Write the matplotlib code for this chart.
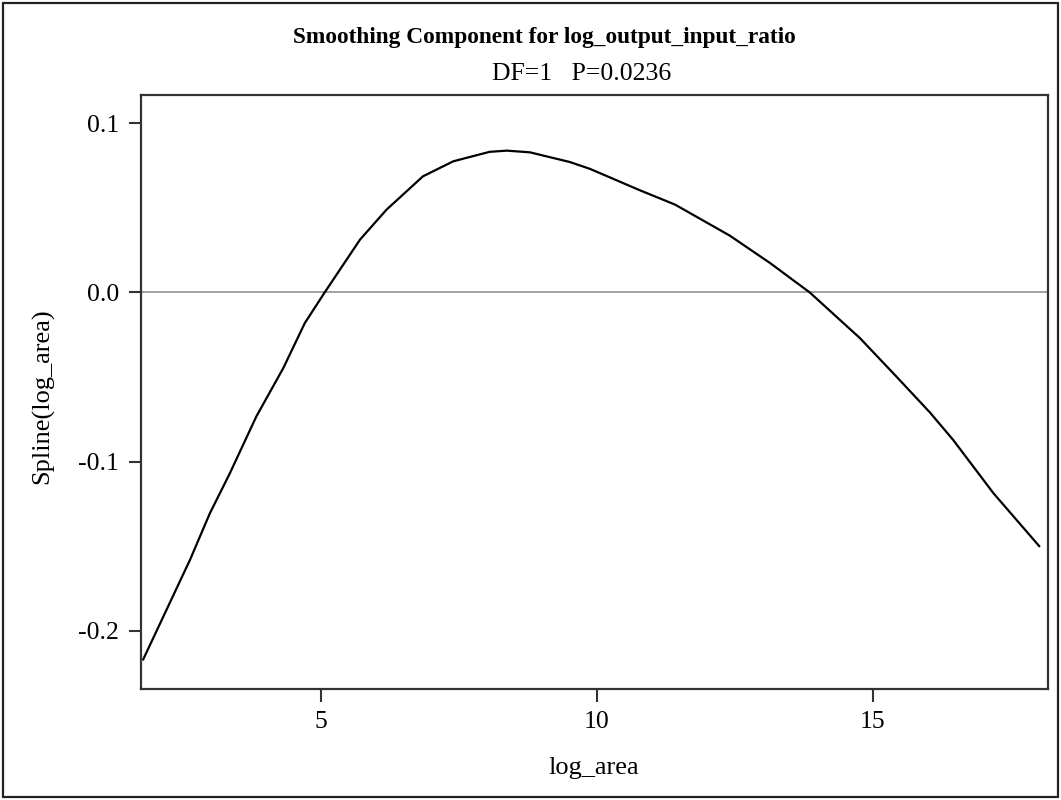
import matplotlib
matplotlib.use("Agg")
import matplotlib.pyplot as plt
from matplotlib.patches import Rectangle

# Data
log_area = [1.78, 2.63, 2.99, 3.35, 3.83, 4.32, 4.71, 5.07, 5.71, 6.19, 6.85, 7.40,
            8.06, 8.37, 8.79, 9.51, 9.88, 10.78, 11.42, 12.41, 13.14, 13.86,
            14.77, 15.43, 16.04, 16.46, 17.19, 18.02]
spline = [-0.217, -0.158, -0.1305, -0.107, -0.0734, -0.0447, -0.0181, 0.0,
          0.0312, 0.0489, 0.0686, 0.0775, 0.0831, 0.0838, 0.0828, 0.0771, 0.073,
          0.0604, 0.0519, 0.0336, 0.0174, 0.0, -0.027, -0.0497, -0.071, -0.0872,
          -0.1187, -0.150]
x_ticks = [5, 10, 15]
y_ticks = [-0.2, -0.1, 0.0, 0.1]
y_tick_labels = ["-0.2", "-0.1", "0.0", "0.1"]

title = "Smoothing Component for log_output_input_ratio"
subtitle = "DF=1   P=0.0236"
xlabel = "log_area"
ylabel = "Spline(log_area)"

plt.rcParams['font.family'] = ['Liberation Serif', 'DejaVu Serif']

W, H = 1061, 800
fig = plt.figure(figsize=(W / 100, H / 100), dpi=100)
ax = fig.add_axes([141 / W, 1 - 689 / H, (1048 - 141) / W, (689 - 95) / H])

ax.axhline(0, color='#9a9a9a', lw=1.3, zorder=1)
ax.plot(log_area, spline, color='black', lw=1.6, zorder=2)

ax.set_xlim(1.74, 18.18)
ax.set_ylim(-0.2345, 0.1167)
ax.set_xticks(x_ticks)
ax.set_xticklabels([str(t) for t in x_ticks])
ax.set_yticks(y_ticks)
ax.set_yticklabels(y_tick_labels)
ax.tick_params(direction='out', length=9, width=1.5, color='#333333',
               labelsize=18.5, pad=7)
for s in ax.spines.values():
    s.set_color('#333333')
    s.set_linewidth(1.6)

fig.text(43 / W, 1 - 396 / H, ylabel, rotation=90, ha='center', va='center', fontsize=19)
fig.text(594 / W, 1 - 768 / H, xlabel, ha='center', va='center', fontsize=19)
fig.text(544 / W, 1 - 38 / H, title, ha='center', va='center', fontsize=16.8, fontweight='bold')
fig.text(582 / W, 1 - 74 / H, subtitle, ha='center', va='center', fontsize=18.5)

fig.patches.append(Rectangle((3 / W, 3 / H), (W - 6) / W, (H - 6) / H,
                             transform=fig.transFigure, fill=False,
                             edgecolor='#222222', lw=1.6))

fig.savefig("out.png", dpi=100, facecolor='white')
